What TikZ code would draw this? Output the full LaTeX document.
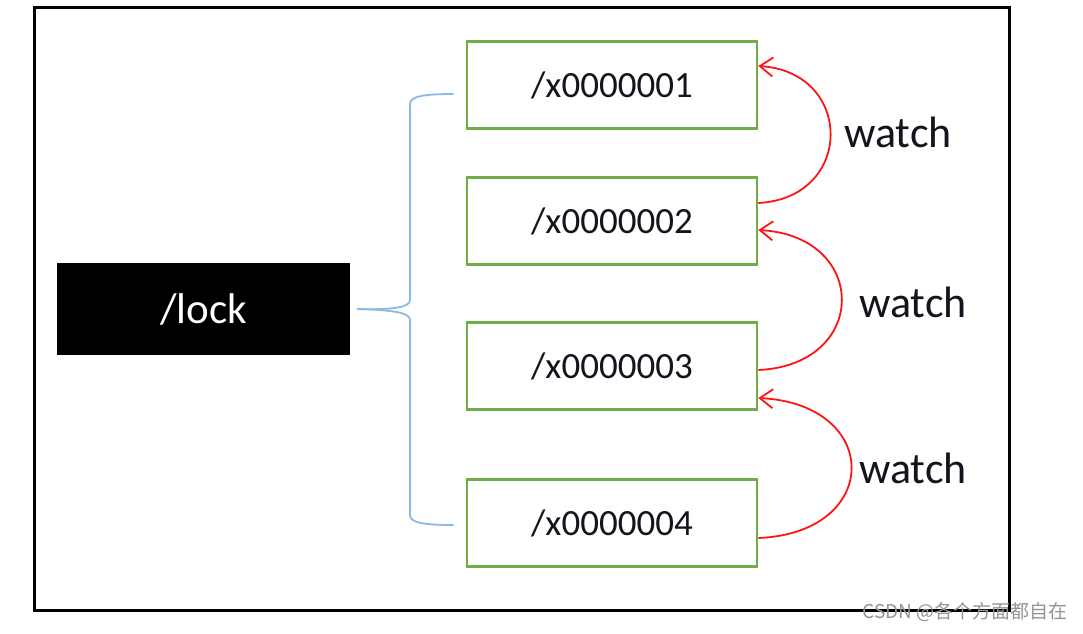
\documentclass[tikz,border=0pt]{standalone}
\usepackage{fontspec}
\setmainfont{Carlito}
\newfontfamily\cjkfont{Noto Sans CJK SC}
\usetikzlibrary{arrows.meta}
\definecolor{boxgreen}{RGB}{112,173,71}
\definecolor{bracecol}{RGB}{140,185,228}
\definecolor{watchred}{RGB}{255,20,20}
\definecolor{txtdark}{RGB}{20,20,30}
\begin{document}
\begin{tikzpicture}[x=1pt,y=-1pt,
  znode/.style={draw=boxgreen, line width=2.6pt, minimum width=290pt, minimum height=87pt,
    inner sep=0pt, text=txtdark, font=\fontsize{37}{40}\selectfont},
  locknode/.style={fill=black, minimum width=293pt, minimum height=92pt, inner sep=0pt,
    text=white, font=\fontsize{43}{46}\selectfont},
  watcharrow/.style={draw=watchred, line width=1.8pt, -{Straight Barb[length=13pt,width=19pt,line width=1.8pt]}},
  watchlabel/.style={text=txtdark, inner sep=0pt, font=\fontsize{44}{48}\selectfont},
  bracepath/.style={draw=bracecol, line width=1.8pt},
  frame/.style={draw=black, line width=3pt}]
\useasboundingbox (0,0) rectangle (1083,633);
\fill[white] (0,0) rectangle (1083,633);
\draw[frame] (34,7) rectangle (1009,610);

\node[locknode] (lock) at (203.5,309) {/lock};
\node[znode] (b1) at (612,85) {/x0000001};
\node[znode] (b2) at (612,221) {/x0000002};
\node[znode] (b3) at (612,366) {/x0000003};
\node[znode] (b4) at (612,523) {/x0000004};

% brace
\coordinate (bstart) at ([xshift=7pt]lock.east);
\coordinate (btop) at ([xshift=-12pt,yshift=-9pt]b1.west);
\coordinate (bbot) at ([xshift=-12pt,yshift=-2pt]b4.west);
\draw[bracepath] (btop) .. controls (425,94) and (410,96) .. (410,104) -- (410,300)
  .. controls (410,307) and (395,310) .. (bstart);
\draw[bracepath] (bbot) .. controls (425,525) and (410,523) .. (410,515) -- (410,320)
  .. controls (410,313) and (395,310) .. (bstart);

% watch arrows
\draw[watcharrow] ([yshift=18pt]b2.east) .. controls +(96,-5) and +(96,6) .. ([yshift=19pt]b1.east);
\draw[watcharrow] ([yshift=-4pt]b3.east) .. controls +(111,-5) and +(111,6) .. ([yshift=-9pt]b2.east);
\draw[watcharrow] ([yshift=-15pt]b4.east) .. controls +(124,-5) and +(124,6) .. ([yshift=-32pt]b3.east);

\node[watchlabel] (w1) at (898,132) {watch};
\node[watchlabel] (w2) at (913,302) {watch};
\node[watchlabel] (w3) at (913,468) {watch};

\node[anchor=east, inner sep=0pt, text=black!42, font=\fontsize{19}{22}\cjkfont] (wm) at (1068,612) {CSDN @各个方面都自在};
\end{tikzpicture}
\end{document}
